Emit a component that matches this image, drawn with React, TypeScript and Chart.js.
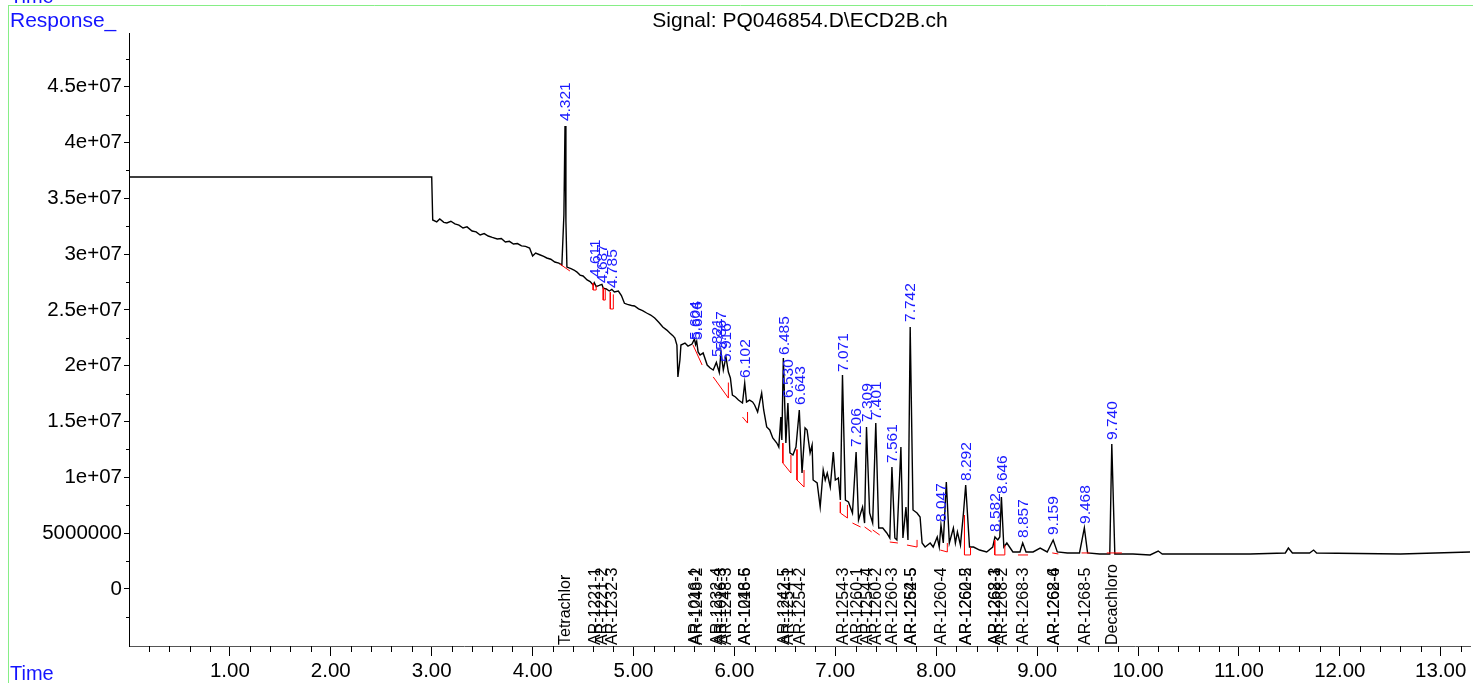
import React, { useEffect, useRef } from "react";
import { Chart, registerables } from "chart.js";

Chart.register(...registerables);

const FONT = '"Liberation Sans", Arial, sans-serif';

// Signal trace (retention time in min, response)
const retentionTimes = [
  0.0, 3.0, 3.01, 3.05, 3.08, 3.12, 3.15, 3.19, 3.23, 3.27, 3.31, 3.35, 3.4, 3.44, 3.48, 3.52, 3.56, 3.6, 3.65, 3.69,
  3.73, 3.77, 3.81, 3.85, 3.89, 3.93, 3.97, 4.0, 4.03, 4.07, 4.11, 4.14, 4.18, 4.22, 4.26, 4.29, 4.31, 4.321, 4.33, 4.34,
  4.38, 4.41, 4.44, 4.47, 4.5, 4.54, 4.57, 4.6, 4.611, 4.63, 4.66, 4.687, 4.7, 4.73, 4.76, 4.785, 4.81, 4.85, 4.88, 4.91,
  4.94, 4.98, 5.01, 5.05, 5.09, 5.13, 5.17, 5.21, 5.25, 5.29, 5.33, 5.36, 5.39, 5.41, 5.43, 5.44, 5.46, 5.47, 5.51, 5.54,
  5.58, 5.604, 5.615, 5.626, 5.64, 5.66, 5.69, 5.73, 5.76, 5.79, 5.821, 5.85, 5.867, 5.89, 5.916, 5.94, 5.96, 5.98, 6.01, 6.04,
  6.08, 6.102, 6.12, 6.15, 6.18, 6.2, 6.23, 6.27, 6.29, 6.32, 6.35, 6.38, 6.42, 6.44, 6.46, 6.47, 6.485, 6.51, 6.53, 6.55,
  6.58, 6.61, 6.643, 6.67, 6.7, 6.72, 6.75, 6.77, 6.78, 6.82, 6.85, 6.88, 6.9, 6.92, 6.95, 6.98, 7.0, 7.03, 7.05, 7.071,
  7.1, 7.13, 7.17, 7.206, 7.23, 7.27, 7.29, 7.309, 7.34, 7.37, 7.401, 7.43, 7.47, 7.51, 7.54, 7.561, 7.59, 7.61, 7.65, 7.67,
  7.7, 7.72, 7.742, 7.77, 7.81, 7.84, 7.86, 7.89, 7.94, 7.97, 8.01, 8.03, 8.047, 8.07, 8.1, 8.13, 8.17, 8.19, 8.21, 8.24,
  8.27, 8.292, 8.33, 8.37, 8.43, 8.5, 8.56, 8.582, 8.61, 8.63, 8.646, 8.67, 8.7, 8.76, 8.83, 8.857, 8.89, 8.96, 9.03, 9.1,
  9.159, 9.2, 9.3, 9.42, 9.468, 9.5, 9.62, 9.72, 9.74, 9.77, 9.95, 10.12, 10.2, 10.24, 10.62, 11.11, 11.46, 11.49, 11.53, 11.7,
  11.74, 11.77, 12.6, 13.31,
];
const responses = [
  36.92e6, 36.92e6, 33.07e6, 32.9e6, 33.15e6, 32.85e6, 32.8e6, 32.95e6, 32.71e6, 32.6e6, 32.35e6, 32.45e6, 32.08e6, 32.0e6, 31.72e6, 31.85e6, 31.63e6, 31.5e6, 31.36e6, 31.4e6,
  31.09e6, 31.15e6, 30.91e6, 30.95e6, 30.74e6, 30.7e6, 30.55e6, 29.84e6, 30.1e6, 29.95e6, 29.8e6, 29.66e6, 29.55e6, 29.3e6, 29.2e6, 29.03e6, 33.5e6, 41.48e6, 33.0e6, 28.85e6,
  28.7e6, 28.58e6, 28.4e6, 28.13e6, 28.05e6, 27.69e6, 27.55e6, 27.24e6, 27.45e6, 27.1e6, 27.2e6, 27.3e6, 26.95e6, 26.88e6, 26.7e6, 26.85e6, 26.61e6, 26.7e6, 26.3e6, 25.6e6,
  25.5e6, 25.4e6, 25.36e6, 25.1e6, 24.95e6, 24.73e6, 24.55e6, 24.28e6, 23.9e6, 23.48e6, 23.2e6, 22.94e6, 22.7e6, 22.49e6, 21.86e6, 19.0e6, 20.52e6, 21.86e6, 22.04e6, 21.77e6,
  21.95e6, 22.4e6, 21.9e6, 22.2e6, 21.24e6, 20.97e6, 21.15e6, 20.07e6, 19.8e6, 19.62e6, 20.3e6, 19.4e6, 21.24e6, 19.62e6, 20.79e6, 19.44e6, 18.91e6, 17.38e6, 17.2e6, 16.93e6,
  16.67e6, 18.46e6, 16.76e6, 16.93e6, 16.76e6, 16.49e6, 15.86e6, 17.56e6, 16.04e6, 14.52e6, 14.25e6, 13.53e6, 13.08e6, 12.72e6, 15.41e6, 13.35e6, 20.7e6, 13.08e6, 16.67e6, 12.19e6,
  12.01e6, 12.72e6, 16.04e6, 10.39e6, 14.43e6, 14.25e6, 12.19e6, 12.9e6, 9.77e6, 9.5e6, 7.35e6, 10.66e6, 9.77e6, 10.39e6, 9.14e6, 12.28e6, 9.77e6, 9.95e6, 7.97e6, 19.17e6,
  7.97e6, 7.8e6, 6.81e6, 12.28e6, 6.18e6, 7.35e6, 5.91e6, 14.52e6, 6.81e6, 5.91e6, 14.87e6, 5.47e6, 5.47e6, 5.02e6, 4.57e6, 10.93e6, 4.57e6, 4.39e6, 12.72e6, 4.57e6,
  7.35e6, 4.39e6, 23.48e6, 7.08e6, 6.81e6, 6.45e6, 4.12e6, 3.76e6, 4.12e6, 3.76e6, 4.66e6, 3.76e6, 5.73e6, 4.12e6, 9.59e6, 4.12e6, 5.47e6, 4.12e6, 5.11e6, 3.94e6,
  6.81e6, 9.32e6, 3.76e6, 3.76e6, 3.49e6, 3.32e6, 3.76e6, 4.66e6, 4.39e6, 4.66e6, 8.24e6, 3.76e6, 4.12e6, 3.32e6, 3.32e6, 4.12e6, 3.32e6, 3.32e6, 3.67e6, 3.32e6,
  4.39e6, 3.32e6, 3.23e6, 3.23e6, 5.47e6, 3.23e6, 3.14e6, 3.14e6, 12.99e6, 3.14e6, 3.14e6, 3.05e6, 3.4e6, 3.14e6, 3.14e6, 3.14e6, 3.23e6, 3.67e6, 3.23e6, 3.23e6,
  3.49e6, 3.23e6, 3.14e6, 3.32e6,
];

// Integration baselines (red), null = break
const baselineTimes = [
  4.27, 4.37, 4.37,
  4.6, 4.6, 4.63, 4.63, 4.63,
  4.7, 4.7, 4.72, 4.72, 4.72,
  4.77, 4.77, 4.8, 4.8, 4.8,
  5.59, 5.68, 5.68,
  5.79, 5.94, 5.94, 5.94,
  6.08, 6.13, 6.13, 6.13,
  6.48, 6.48, 6.56, 6.56, 6.56,
  6.62, 6.62, 6.69, 6.69, 6.69,
  7.05, 7.05, 7.12, 7.12, 7.12,
  7.17, 7.25, 7.25,
  7.29, 7.36, 7.36,
  7.37, 7.44, 7.44,
  7.54, 7.62, 7.62,
  7.71, 7.81, 7.81, 7.81,
  8.04, 8.11, 8.11, 8.11,
  8.28, 8.28, 8.34, 8.34, 8.34,
  8.58, 8.58, 8.68, 8.68, 8.68,
  8.81, 8.91, 8.91,
  9.15, 9.21, 9.21,
  9.44, 9.52, 9.52,
  9.69, 9.84,
];
const baselineResponses = [
  29.12e6, 28.49e6, null,
  27.42e6, 26.79e6, 26.79e6, 27.2e6, null,
  27.0e6, 25.89e6, 25.89e6, 26.9e6, null,
  26.6e6, 25.09e6, 25.09e6, 26.4e6, null,
  21.86e6, 20.07e6, null,
  19.0e6, 17.11e6, 18.5e6, null,
  15.41e6, 14.87e6, 15.86e6, null,
  13.08e6, 11.29e6, 10.39e6, 12.01e6, null,
  12.5e6, 9.77e6, 9.14e6, 10.66e6, null,
  7.8e6, 6.81e6, 6.36e6, 7.53e6, null,
  5.91e6, 5.56e6, null,
  5.56e6, 5.11e6, null,
  5.29e6, 4.84e6, null,
  4.21e6, 4.12e6, null,
  3.94e6, 3.76e6, 4.4e6, null,
  3.49e6, 3.32e6, 4.12e6, null,
  6.63e6, 3.05e6, 3.05e6, 3.76e6, null,
  4.39e6, 3.05e6, 3.05e6, 3.94e6, null,
  3.05e6, 3.05e6, null,
  3.23e6, 3.14e6, null,
  3.23e6, 3.23e6, null,
  3.23e6, 3.23e6,
];

// Peak annotations (blue)
const peakTimes = [4.321, 4.611, 4.687, 4.785, 5.604, 5.626, 5.821, 5.867, 5.916, 6.102, 6.485, 6.53, 6.643, 7.071, 7.206, 7.309, 7.401, 7.561, 7.742, 8.047, 8.292, 8.582, 8.646, 8.857, 9.159, 9.468, 9.74];
const peakApex = [41.48e6, 27.51e6, 26.97e6, 26.52e6, 21.86e6, 21.86e6, 20.34e6, 20.97e6, 19.89e6, 18.46e6, 20.52e6, 16.67e6, 16.04e6, 19.0e6, 12.28e6, 14.52e6, 14.69e6, 10.84e6, 23.48e6, 5.56e6, 9.23e6, 4.66e6, 8.06e6, 4.12e6, 4.39e6, 5.38e6, 12.9e6];
const peakLabels = ["4.321", "4.611", "4.687", "4.785", "5.604", "5.626", "5.821", "5.867", "5.916", "6.102", "6.485", "6.530", "6.643", "7.071", "7.206", "7.309", "7.401", "7.561", "7.742", "8.047", "8.292", "8.582", "8.646", "8.857", "9.159", "9.468", "9.740"];

// Compound names (black, along the bottom)
const compoundTimes = [4.321, 4.611, 4.687, 4.785, 5.604, 5.626, 5.821, 5.867, 5.916, 6.102, 6.102, 6.485, 6.53, 6.643, 7.071, 7.206, 7.309, 7.401, 7.561, 7.742, 7.742, 8.047, 8.292, 8.292, 8.582, 8.582, 8.646, 8.857, 9.159, 9.159, 9.468, 9.74];
const compoundNames = ["Tetrachlor", "AR-1221-1", "AR-1221-2", "AR-1232-3", "AR-1016-1", "AR-1248-2", "AR-1232-4", "AR-1016-3", "AR-1248-3", "AR-1248-5", "AR-1016-6", "AR-1242-5", "AR-1254-1", "AR-1254-2", "AR-1254-3", "AR-1260-1", "AR-1254-4", "AR-1260-2", "AR-1260-3", "AR-1262-5", "AR-1254-5", "AR-1260-4", "AR-1260-5", "AR-1262-2", "AR-1268-1", "AR-1262-3", "AR-1268-2", "AR-1268-3", "AR-1268-4", "AR-1262-6", "AR-1268-5", "Decachloro"];

const xTickValues = [1, 2, 3, 4, 5, 6, 7, 8, 9, 10, 11, 12, 13];
const yTickValues = [0, 5e6, 10e6, 15e6, 20e6, 25e6, 30e6, 35e6, 40e6, 45e6];
const yTickLabels = ["0", "5000000", "1e+07", "1.5e+07", "2e+07", "2.5e+07", "3e+07", "3.5e+07", "4e+07", "4.5e+07"];
const titleText = "Signal: PQ046854.D\\ECD2B.ch";

const decorPlugin = {
  id: "decor",
  beforeDraw(chart: any) {
    const ctx = chart.ctx;
    ctx.save();
    ctx.fillStyle = "#ffffff";
    ctx.fillRect(0, 0, chart.width, chart.height);
    ctx.strokeStyle = "#86ee86";
    ctx.lineWidth = 1;
    ctx.beginPath();
    ctx.moveTo(8, 5.5);
    ctx.lineTo(chart.width, 5.5);
    ctx.moveTo(8.5, 5);
    ctx.lineTo(8.5, chart.height);
    ctx.stroke();
    ctx.fillStyle = "#1414ff";
    ctx.textAlign = "left";
    ctx.textBaseline = "alphabetic";
    ctx.font = `20px ${FONT}`;
    ctx.fillText("Time", 10, 3);
    ctx.fillText("Time", 10, 680);
    ctx.font = `21px ${FONT}`;
    ctx.fillText("Response_", 10, 27);
    ctx.fillStyle = "#000000";
    ctx.textAlign = "center";
    ctx.font = `21px ${FONT}`;
    ctx.fillText(titleText, 800, 27);
    ctx.restore();
  },
  afterDatasetsDraw(chart: any) {
    const ctx = chart.ctx;
    const xs = chart.scales.x;
    const ys = chart.scales.y;
    const area = chart.chartArea;
    ctx.save();
    // minor ticks
    ctx.strokeStyle = "#000";
    ctx.lineWidth = 1;
    ctx.beginPath();
    for (let i = 1; i * 0.2 <= xs.max; i++) {
      if (i % 5 === 0) continue;
      const px = Math.round(xs.getPixelForValue(i * 0.2)) + 0.5;
      ctx.moveTo(px, area.bottom);
      ctx.lineTo(px, area.bottom + 6);
    }
    for (let i = -2; i * 2.5e6 <= ys.max; i++) {
      if (i % 2 === 0) continue;
      const py = Math.round(ys.getPixelForValue(i * 2.5e6)) + 0.5;
      ctx.moveTo(area.left, py);
      ctx.lineTo(area.left - 3, py);
    }
    ctx.stroke();
    // peak labels
    ctx.fillStyle = "#1a1aff";
    ctx.font = `15.5px ${FONT}`;
    ctx.textAlign = "left";
    ctx.textBaseline = "middle";
    peakTimes.forEach((t, i) => {
      const px = xs.getPixelForValue(t);
      const py = ys.getPixelForValue(peakApex[i]) - 5;
      ctx.save();
      ctx.translate(px + 1, py);
      ctx.rotate(-Math.PI / 2);
      ctx.fillText(peakLabels[i], 0, 0);
      ctx.restore();
    });
    // compound labels
    ctx.fillStyle = "#000000";
    ctx.font = `16px ${FONT}`;
    compoundTimes.forEach((t, i) => {
      const px = xs.getPixelForValue(t);
      ctx.save();
      ctx.translate(px + 1, area.bottom - 1);
      ctx.rotate(-Math.PI / 2);
      ctx.fillText(compoundNames[i], 0, 0);
      ctx.restore();
    });
    ctx.restore();
  },
};

export default function App() {
  const canvasRef = useRef<HTMLCanvasElement | null>(null);

  useEffect(() => {
    if (!canvasRef.current) return;
    const signal = retentionTimes.map((t, i) => ({ x: t, y: responses[i] }));
    const baselines = baselineTimes.map((t, i) => ({ x: t, y: baselineResponses[i] }));
    const chart = new Chart(canvasRef.current, {
      type: "line",
      data: {
        datasets: [
          {
            data: baselines as any,
            borderColor: "#ff0000",
            borderWidth: 1,
            pointRadius: 0,
            tension: 0,
            spanGaps: false,
          },
          {
            data: signal as any,
            borderColor: "#000000",
            borderWidth: 1.4,
            pointRadius: 0,
            tension: 0,
          },
        ],
      },
      options: {
        animation: false,
        responsive: false,
        maintainAspectRatio: false,
        layout: { padding: { top: 33, right: 3, left: 0, bottom: 0 } },
        plugins: {
          legend: { display: false },
          tooltip: { enabled: false },
          title: { display: false },
        },
        scales: {
          x: {
            type: "linear",
            min: 0,
            max: 13.29,
            afterBuildTicks: (s: any) => {
              s.ticks = xTickValues.map((v) => ({ value: v }));
            },
            afterFit: (s: any) => {
              s.height = 37;
            },
            ticks: {
              callback: (v: any) => Number(v).toFixed(2),
              font: { family: FONT, size: 20.5 },
              color: "#000",
              padding: 3,
              maxRotation: 0,
              autoSkip: false,
            },
            grid: { display: true, drawOnChartArea: false, drawTicks: true, tickLength: 10, color: "#000" },
            border: { display: true, color: "#555" },
          },
          y: {
            type: "linear",
            min: -5.108e6,
            max: 4.982e7,
            afterBuildTicks: (s: any) => {
              s.ticks = yTickValues.map((v) => ({ value: v }));
            },
            afterFit: (s: any) => {
              s.width = 129;
            },
            ticks: {
              callback: (v: any) => {
                const idx = yTickValues.indexOf(Number(v));
                return idx >= 0 ? yTickLabels[idx] : "";
              },
              font: { family: FONT, size: 20.5 },
              color: "#000",
              padding: 2,
              autoSkip: false,
            },
            grid: { display: true, drawOnChartArea: false, drawTicks: true, tickLength: 5, color: "#000" },
            border: { display: true, color: "#000" },
          },
        },
      },
      plugins: [decorPlugin],
    });
    return () => chart.destroy();
  }, []);

  return (
    <div style={{ position: "fixed", left: 0, top: 0, width: 1473, height: 683, background: "#fff" }}>
      <canvas ref={canvasRef} width={1473} height={683} style={{ display: "block", width: 1473, height: 683 }} />
    </div>
  );
}
